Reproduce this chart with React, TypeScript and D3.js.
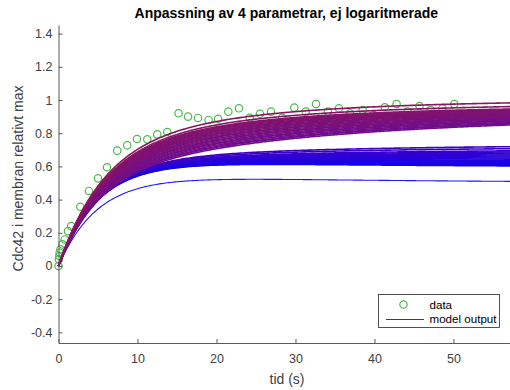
import React, { useEffect, useRef } from 'react';
import * as d3 from 'd3';

const W = 510;
const H = 390;

// Measured data (time in s, relative Cdc42)
const dataT = [0.0, 0.05, 0.1, 0.15, 0.25, 0.5, 0.8, 1.2, 1.6, 2.76, 3.86, 5.0, 6.14, 7.44, 8.7, 9.94, 11.24, 12.5, 13.77, 15.2, 16.4, 17.66, 19.0, 20.2, 21.5, 22.85, 24.2, 25.5, 26.9, 28.3, 29.85, 31.3, 32.6, 34.1, 35.5, 36.9, 38.5, 39.9, 41.3, 42.8, 44.2, 45.7, 47.1, 48.6, 50.1];
const dataY = [0.0, 0.04, 0.06, 0.08, 0.1, 0.13, 0.16, 0.21, 0.24, 0.357, 0.452, 0.528, 0.595, 0.695, 0.727, 0.765, 0.763, 0.793, 0.807, 0.92, 0.9, 0.892, 0.88, 0.887, 0.93, 0.95, 0.893, 0.917, 0.93, 0.893, 0.954, 0.93, 0.976, 0.93, 0.95, 0.92, 0.94, 0.91, 0.956, 0.976, 0.93, 0.964, 0.94, 0.95, 0.976];

// Model parameter sets (4 parameters per fitted curve): a, k1, b, k2
const upperA = [0.530, 0.537, 0.545, 0.551, 0.558, 0.566, 0.572, 0.579, 0.587, 0.593, 0.600, 0.608, 0.614, 0.621, 0.629, 0.635, 0.642, 0.650, 0.656, 0.663, 0.671, 0.678, 0.686, 0.700];
const upperK1 = [0.200, 0.199, 0.199, 0.198, 0.197, 0.196, 0.196, 0.195, 0.194, 0.193, 0.193, 0.192, 0.191, 0.190, 0.190, 0.189, 0.188, 0.187, 0.186, 0.185, 0.184, 0.183, 0.181, 0.180];
const upperB = [0.370, 0.366, 0.361, 0.358, 0.354, 0.349, 0.346, 0.342, 0.337, 0.334, 0.330, 0.325, 0.322, 0.318, 0.313, 0.310, 0.306, 0.301, 0.298, 0.294, 0.289, 0.285, 0.292, 0.300];
const upperK2 = [0.035, 0.036, 0.036, 0.037, 0.038, 0.038, 0.039, 0.040, 0.040, 0.041, 0.042, 0.042, 0.043, 0.044, 0.044, 0.045, 0.046, 0.046, 0.047, 0.048, 0.048, 0.049, 0.049, 0.050];

const midA = [0.640, 0.639, 0.638, 0.637, 0.636, 0.635, 0.634, 0.633, 0.632, 0.631, 0.630, 0.629, 0.628, 0.626, 0.625, 0.623, 0.622, 0.620];
const midK1 = [0.200, 0.200, 0.201, 0.201, 0.202, 0.202, 0.203, 0.203, 0.204, 0.204, 0.203, 0.203, 0.202, 0.202, 0.201, 0.201, 0.200, 0.200];
const midB = [-0.045, -0.036, -0.027, -0.018, -0.010, -0.002, 0.006, 0.014, 0.022, 0.030, 0.038, 0.046, 0.054, 0.062, 0.070, 0.080, 0.095, 0.110];
const midK2 = [0.030, 0.031, 0.031, 0.032, 0.032, 0.033, 0.033, 0.034, 0.034, 0.035, 0.035, 0.036, 0.036, 0.037, 0.038, 0.038, 0.039, 0.040];

const lowA = [0.555];
const lowK1 = [0.200];
const lowB = [-0.055];
const lowK2 = [0.030];

const xTicks = [0, 10, 20, 30, 40, 50];
const yTicks = [-0.4, -0.2, 0, 0.2, 0.4, 0.6, 0.8, 1, 1.2, 1.4];
const titleText = 'Anpassning av 4 parametrar, ej logaritmerade';
const xLabel = 'tid (s)';
const yLabel = 'Cdc42 i membran relativt max';
const legendLabels = ['data', 'model output'];

const T_MAX = 57.6;

function model(t: number, a: number, k1: number, b: number, k2: number) {
  return a * (1 - Math.exp(-k1 * t)) + b * (1 - Math.exp(-k2 * t));
}

export default function App() {
  const ref = useRef<SVGSVGElement>(null);

  useEffect(() => {
    const svg = d3.select(ref.current);
    svg.selectAll('*').remove();
    const font = '"Liberation Sans", Arial, Helvetica, sans-serif';

    const x = d3.scaleLinear().domain([0, T_MAX]).range([58.5, 513.5]);
    const y = d3.scaleLinear().domain([-0.464, 1.452]).range([343, 25]);

    svg.append('rect').attr('width', W).attr('height', H).attr('fill', '#ffffff');

    // data points
    const pts = dataT.map((t, i) => [t, dataY[i]] as [number, number]);
    svg.append('g')
      .selectAll('circle')
      .data(pts)
      .join('circle')
      .attr('cx', (d) => x(d[0]))
      .attr('cy', (d) => y(d[1]))
      .attr('r', 3.7)
      .attr('fill', 'none')
      .attr('stroke', '#4cb84c')
      .attr('stroke-width', 1.2);

    // model curves
    type P = { a: number; k1: number; b: number; k2: number; end: number };
    const params: P[] = [];
    const push = (A: number[], K1: number[], B: number[], K2: number[]) => {
      A.forEach((a, i) => {
        params.push({ a, k1: K1[i], b: B[i], k2: K2[i], end: model(T_MAX, a, K1[i], B[i], K2[i]) });
      });
    };
    push(lowA, lowK1, lowB, lowK2);
    push(midA, midK1, midB, midK2);
    push(upperA, upperK1, upperB, upperK2);
    params.sort((p, q) => p.end - q.end);

    const colorAt = (v: number) => {
      const dom = [0.5, 0.6, 0.72, 0.84, 0.99];
      const rng = ['#0000ff', '#1000ee', '#4000c4', '#6c0c94', '#8c165a'];
      const s = d3.scaleLinear<string>().domain(dom).range(rng).interpolate(d3.interpolateRgb).clamp(true);
      return d3.rgb(s(v)).formatHex();
    };

    const ts = d3.range(0, T_MAX + 0.001, 0.2);
    const gLines = svg.append('g').attr('fill', 'none');
    params.forEach((p, i) => {
      const line = d3
        .line<number>()
        .x((t) => x(t))
        .y((t) => y(model(t, p.a, p.k1, p.b, p.k2)));
      gLines
        .append('path')
        .attr('d', line(ts) as string)
        .attr('fill', 'none')
        .attr('stroke', i === 0 ? '#1a1aff' : colorAt(p.end))
        .attr('stroke-width', i === 0 ? 1.1 : 1.6);
    });

    // axes
    const fmt = (d: d3.NumberValue) => {
      const v = +(+d).toFixed(1);
      return v < 0 ? '-' + String(Math.abs(v)) : String(v);
    };
    const gx = svg
      .append('g')
      .attr('transform', 'translate(0,343)')
      .call(d3.axisBottom(x).tickValues(xTicks).tickSizeInner(-4).tickSizeOuter(0).tickPadding(11).tickFormat(fmt));
    const gy = svg
      .append('g')
      .attr('transform', 'translate(58.5,0)')
      .call(d3.axisLeft(y).tickValues(yTicks).tickSizeInner(-4).tickSizeOuter(0).tickPadding(6).tickFormat(fmt));
    [gx, gy].forEach((g) => {
      g.attr('font-family', font).attr('font-size', 12.5);
      g.select('.domain').attr('stroke', '#5a5a5a').attr('stroke-width', 1);
      g.selectAll('.tick line').attr('stroke', '#5a5a5a').attr('stroke-width', 1);
      g.selectAll('.tick text').attr('fill', '#404040');
    });

    // title & labels
    svg.append('text')
      .attr('x', 286.3).attr('y', 17.8)
      .attr('text-anchor', 'middle')
      .attr('font-family', font).attr('font-size', 14).attr('font-weight', 'bold')
      .attr('fill', '#000000')
      .text(titleText);
    svg.append('text')
      .attr('x', 287).attr('y', 383.5)
      .attr('text-anchor', 'middle')
      .attr('font-family', font).attr('font-size', 14)
      .attr('fill', '#404040')
      .text(xLabel);
    svg.append('text')
      .attr('transform', 'translate(23,178.5) rotate(-90)')
      .attr('text-anchor', 'middle')
      .attr('font-family', font).attr('font-size', 14)
      .attr('fill', '#404040')
      .text(yLabel);

    // legend
    const lg = svg.append('g');
    lg.append('rect')
      .attr('x', 378.5).attr('y', 294.5).attr('width', 121).attr('height', 33)
      .attr('fill', '#ffffff').attr('stroke', '#262626').attr('stroke-width', 0.8);
    lg.append('circle')
      .attr('cx', 403.5).attr('cy', 304.5).attr('r', 3.7)
      .attr('fill', 'none').attr('stroke', '#4cb84c').attr('stroke-width', 1.2);
    lg.append('path')
      .attr('d', 'M386,319.5H424')
      .attr('fill', 'none')
      .attr('stroke', '#2b2bff').attr('stroke-width', 1.2);
    lg.selectAll('text.lab')
      .data(legendLabels)
      .join('text')
      .attr('class', 'lab')
      .attr('x', 429.5)
      .attr('y', (_, i) => (i === 0 ? 309.3 : 323.3))
      .attr('font-family', font).attr('font-size', 11.6)
      .attr('fill', '#000000')
      .text((d) => d);
  }, []);

  return <svg ref={ref} width={W} height={H} style={{ position: 'absolute', left: 0, top: 0 }} />;
}
